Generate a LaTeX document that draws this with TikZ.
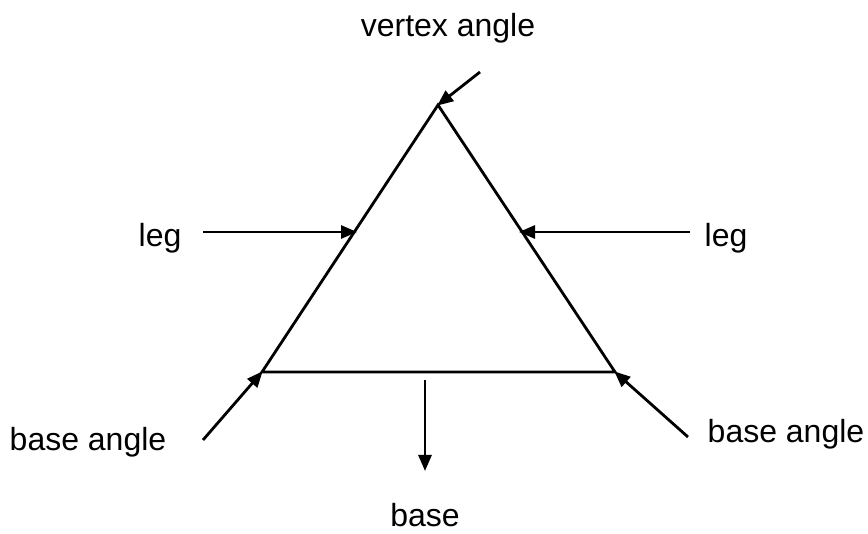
\documentclass[tikz,border=0pt]{standalone}
\usepackage{fontspec}
\setmainfont{Liberation Sans}
\usetikzlibrary{arrows.meta}
\begin{document}
\begin{tikzpicture}[x=1pt,y=-1pt,
  lbl/.style={font=\fontsize{32}{36}\selectfont, inner sep=0pt, anchor=mid},
  side/.style={line width=2.8pt, line join=miter},
  arr/.style={line width=2.8pt, -{Triangle[length=16pt,width=13pt]}, shorten >=-1pt}]
\useasboundingbox (0,0) rectangle (868,534);
\coordinate (A) at (438,105);
\coordinate (B) at (262,372);
\coordinate (C) at (615,372);
\draw[side] (A) -- (B) -- (C) -- cycle;
\coordinate (LL) at (356,232);
\coordinate (LR) at (520,232);
\coordinate (va0) at (480,72);
\coordinate (ll0) at (203,232);
\coordinate (lr0) at (690,232);
\coordinate (bl0) at (203,440);
\coordinate (br0) at (688,437);
\coordinate (b0) at (425,380);
\coordinate (b1) at (425,470);
\draw[arr] (va0) -- (A);
\draw[arr] (ll0) -- (LL);
\draw[arr] (lr0) -- (LR);
\draw[arr] (bl0) -- (B);
\draw[arr] (br0) -- (C);
\draw[arr] (b0) -- (b1);
\node[lbl] (tva) at (448,34) {vertex angle};
\node[lbl] (tll) at (160,244) {leg};
\node[lbl] (tlr) at (726,244) {leg};
\node[lbl] (tbl) at (88,448) {base angle};
\node[lbl] (tbr) at (786,440) {base angle};
\node[lbl] (tb) at (425,524) {base};
\end{tikzpicture}
\end{document}
